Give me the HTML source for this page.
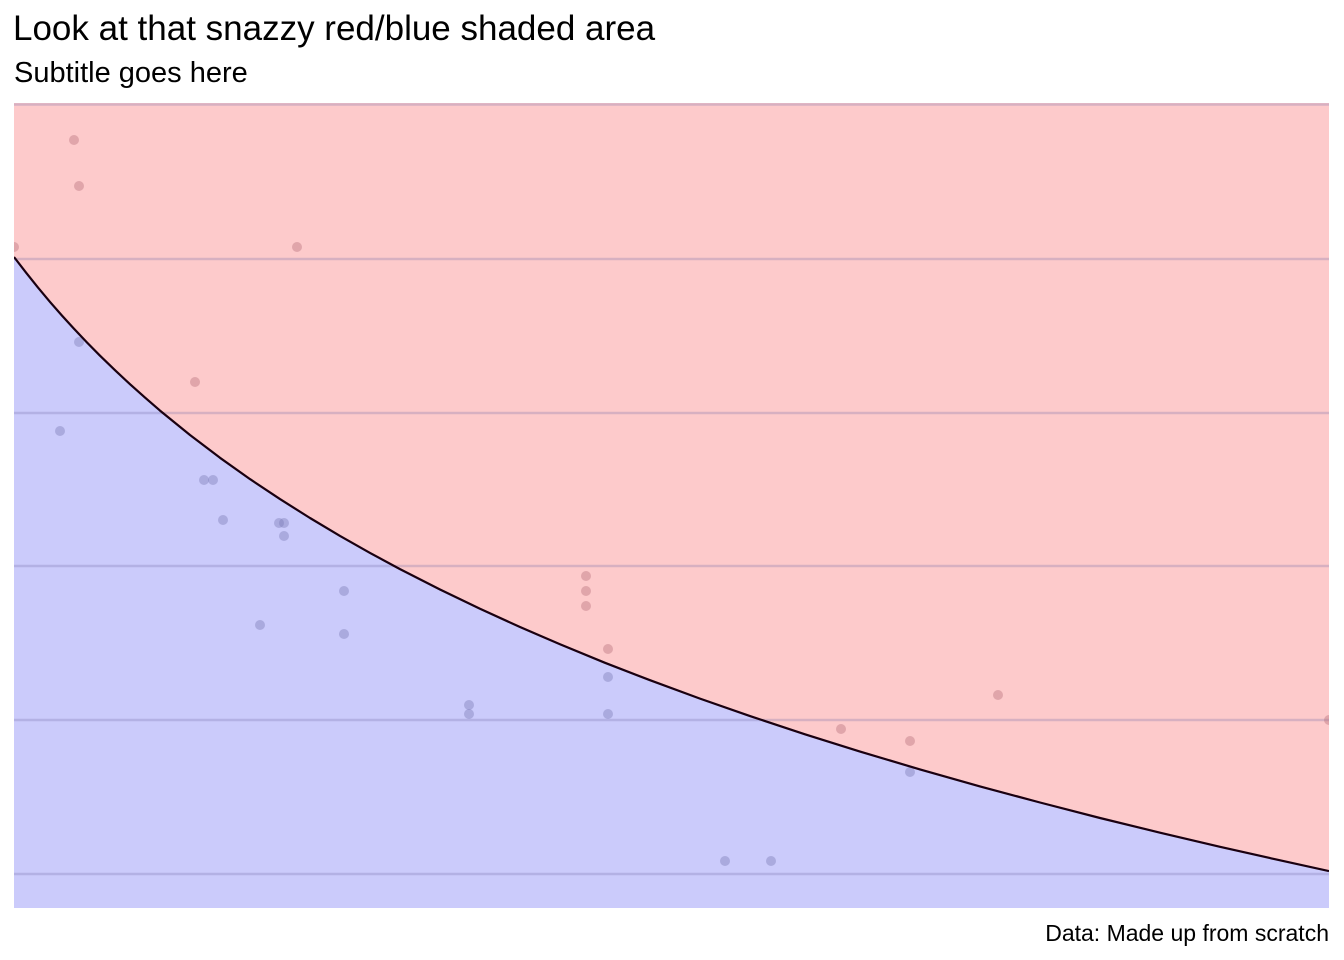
<!DOCTYPE html>
<html><head><meta charset="utf-8"><style>
body{margin:0;background:#fff;}
svg{display:block;font-family:"Liberation Sans",Arial,sans-serif;}
</style></head><body>
<svg width="1344" height="960" viewBox="0 0 1344 960">
<rect width="1344" height="960" fill="#fff"/>
<text x="13" y="40" font-size="35" fill="#000">Look at that snazzy red/blue shaded area</text>
<text x="14" y="82" font-size="29" fill="#000">Subtitle goes here</text>
<defs><clipPath id="c"><rect x="14" y="103" width="1315" height="805"/></clipPath></defs>
<g clip-path="url(#c)">
<rect x="14" y="103" width="1315" height="805" fill="#fdcacb"/>
<path d="M14,257 L26,272.6 L38,287.6 L50,301.9 L62,315.6 L74,328.8 L87,342.5 L100,355.7 L115,370.2 L130,384.2 L145,397.6 L160,410.6 L190,435 L220,457.8 L250,479.1 L280,499.1 L310,518 L340,535.9 L370,552.9 L400,569.1 L440,589.5 L480,608.8 L520,627 L560,644.3 L605,662.8 L650,680.2 L700,698.6 L750,716.1 L805,734.3 L860,751.6 L920,769.4 L980,786.4 L1040,802.5 L1100,818 L1160,832.7 L1220,846.8 L1275,859.2 L1329,871.1 L1329,908 L14,908 Z" fill="#cbcbfb"/>
<g stroke="rgba(120,110,170,0.28)" stroke-width="2.5">
<line x1="14" x2="1329" y1="104.5" y2="104.5"/>
<line x1="14" x2="1329" y1="259" y2="259"/>
<line x1="14" x2="1329" y1="413" y2="413"/>
<line x1="14" x2="1329" y1="566" y2="566"/>
<line x1="14" x2="1329" y1="720" y2="720"/>
<line x1="14" x2="1329" y1="874" y2="874"/>
</g>
<g fill="rgba(180,110,120,0.4)">
<circle cx="74" cy="140" r="5"/><circle cx="79" cy="186" r="5"/><circle cx="14" cy="247" r="5"/><circle cx="297" cy="247" r="5"/><circle cx="195" cy="382" r="5"/><circle cx="586" cy="576" r="5"/><circle cx="586" cy="591" r="5"/><circle cx="586" cy="606" r="5"/><circle cx="608" cy="649" r="5"/><circle cx="998" cy="695" r="5"/><circle cx="841" cy="729" r="5"/><circle cx="910" cy="741" r="5"/><circle cx="1329" cy="720" r="5"/>
</g>
<g fill="rgba(120,120,180,0.4)">
<circle cx="79" cy="342" r="5"/><circle cx="60" cy="431" r="5"/><circle cx="204" cy="480" r="5"/><circle cx="213" cy="480" r="5"/><circle cx="223" cy="520" r="5"/><circle cx="279" cy="523" r="5"/><circle cx="284" cy="523" r="5"/><circle cx="284" cy="536" r="5"/><circle cx="260" cy="625" r="5"/><circle cx="344" cy="591" r="5"/><circle cx="344" cy="634" r="5"/><circle cx="469" cy="705" r="5"/><circle cx="469" cy="714" r="5"/><circle cx="608" cy="677" r="5"/><circle cx="608" cy="714" r="5"/><circle cx="725" cy="861" r="5"/><circle cx="771" cy="861" r="5"/><circle cx="910" cy="772" r="5"/>
</g>
<polyline points="14,257 26,272.6 38,287.6 50,301.9 62,315.6 74,328.8 87,342.5 100,355.7 115,370.2 130,384.2 145,397.6 160,410.6 190,435 220,457.8 250,479.1 280,499.1 310,518 340,535.9 370,552.9 400,569.1 440,589.5 480,608.8 520,627 560,644.3 605,662.8 650,680.2 700,698.6 750,716.1 805,734.3 860,751.6 920,769.4 980,786.4 1040,802.5 1100,818 1160,832.7 1220,846.8 1275,859.2 1329,871.1" fill="none" stroke="#1a0010" stroke-width="2.2" stroke-linejoin="round"/>
</g>
<text x="1329" y="941" font-size="23" text-anchor="end" fill="#000">Data: Made up from scratch</text>
</svg>
</body></html>
